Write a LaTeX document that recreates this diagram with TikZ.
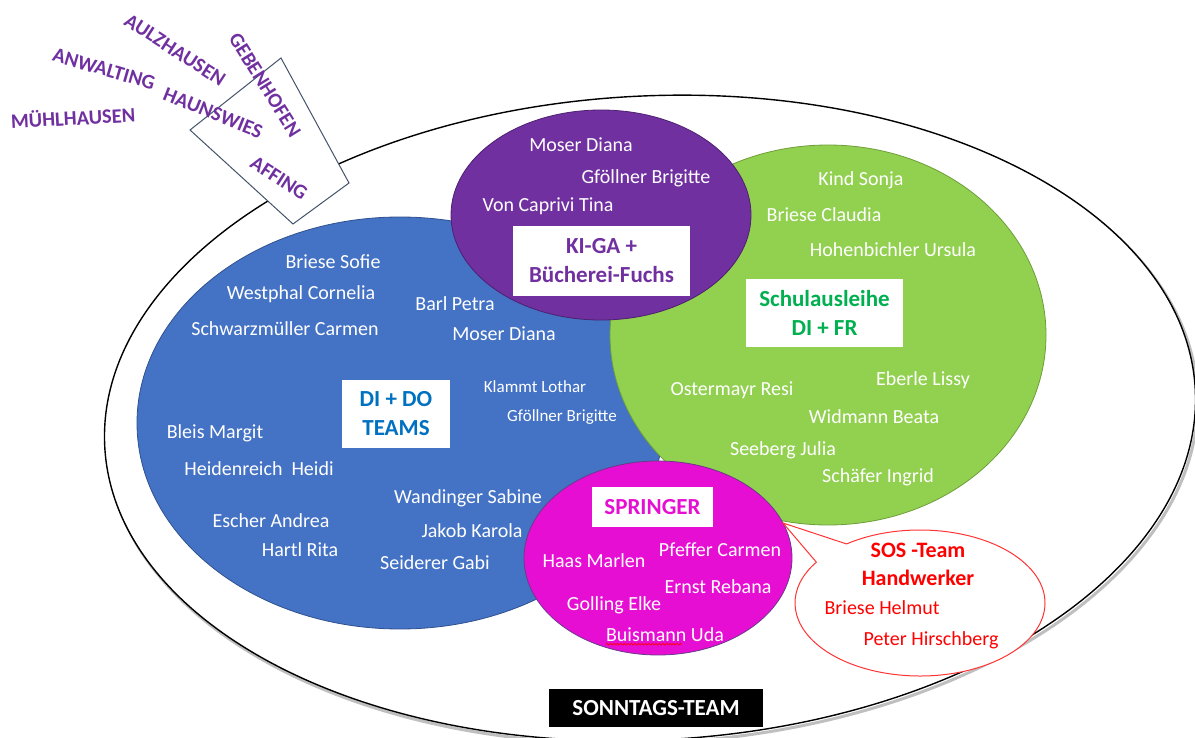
\documentclass[tikz,border=0pt]{standalone}
\usepackage{fontspec}
\setmainfont{Carlito}
\usetikzlibrary{calc,decorations.pathmorphing}
\definecolor{cblue}{HTML}{4472C4}
\definecolor{cblueline}{HTML}{2F528F}
\definecolor{cgreen}{HTML}{92D050}
\definecolor{cgreenline}{HTML}{6E9E3A}
\definecolor{cpurple}{HTML}{7030A0}
\definecolor{cpurpleline}{HTML}{4E2070}
\definecolor{cmag}{HTML}{E60ED2}
\definecolor{cmagline}{HTML}{6A3A8A}
\definecolor{tblue}{HTML}{0070C0}
\definecolor{tgreen}{HTML}{00B050}
\definecolor{tred}{HTML}{FF0000}
\definecolor{boxline}{HTML}{44546A}
\begin{document}
\begin{tikzpicture}[x=1pt,y=-1pt,
  person/.style={text=white, font=\fontsize{20}{24}\selectfont, inner sep=0pt},
  smallperson/.style={text=white, font=\fontsize{17}{20}\selectfont, inner sep=0pt},
  labelbox/.style={fill=white, font=\bfseries\fontsize{23}{29}\selectfont, align=center, inner sep=0pt},
  place/.style={text=cpurple, font=\bfseries\fontsize{20.5}{24}\selectfont, inner sep=0pt},
  redname/.style={text=tred, font=\fontsize{20}{24}\selectfont, inner sep=0pt},
  redhead/.style={text=tred, font=\bfseries\fontsize{22}{28}\selectfont, align=center, inner sep=0pt},
  outerline/.style={draw=black, line width=1.4pt},
  shadowline/.style={draw=black!25, line width=3pt},
]
\useasboundingbox (0,0) rectangle (1195,738);

% outer ellipse (Sonntags-Team)
\begin{scope}[shift={(650,418)}, rotate=3]
  \draw[shadowline] (2,3) ellipse [x radius=546pt, y radius=322pt];
  \draw[outerline, fill=white] (0,0) ellipse [x radius=546pt, y radius=322pt];
\end{scope}

% tilted box
\coordinate (q1) at (281,58);
\coordinate (q2) at (349,183);
\coordinate (q3) at (293,224);
\coordinate (q4) at (190,130);
\filldraw[fill=white, draw=boxline, line width=1pt] (q1) -- (q2) -- (q3) -- (q4) -- cycle;

% group ellipses
\filldraw[fill=cblue, draw=cblueline, line width=0.8pt] (400,423) ellipse [x radius=263pt, y radius=206pt];
\filldraw[fill=cgreen, draw=cgreenline, line width=0.8pt] (828,335) ellipse [x radius=218pt, y radius=190pt];
\filldraw[fill=cpurple, draw=cpurpleline, line width=0.8pt] (601,215) ellipse [x radius=150pt, y radius=105pt];
\filldraw[fill=cmag, draw=cmagline, line width=0.8pt] (658,558) ellipse [x radius=134pt, y radius=97pt];

% speech bubble
\coordinate (bc) at (920,603);
\coordinate (tip) at (783,523);
\filldraw[fill=white, draw=tred!80, line width=1pt]
  ($(bc)+(146:125pt and 73pt)$) -- (tip) -- ($(bc)+(126:125pt and 73pt)$)
  arc[start angle=126, end angle=-214, x radius=125pt, y radius=73pt] -- cycle;

% place names
\node[place, rotate=-33] (aul) at (175,50) {AULZHAUSEN};
\node[place, rotate=-58] (geb) at (265,85) {GEBENHOFEN};
\node[place, rotate=-16] (anw) at (104,69) {ANWALTING};
\node[place, rotate=-22] (hau) at (213,113) {HAUNSWIES};
\node[place, rotate=3] (mue) at (73,117) {MÜHLHAUSEN};
\node[place, rotate=-33] (aff) at (279,178) {AFFING};

% label boxes
\node[labelbox, text=cpurple, minimum width=177pt, minimum height=70pt] (kiga) at (601.5,261) {KI-GA +\\Bücherei-Fuchs};
\node[labelbox, text=tgreen, minimum width=157pt, minimum height=68pt] (schul) at (824.5,313) {Schulausleihe\\DI + FR};
\node[labelbox, text=tblue, minimum width=108pt, minimum height=68pt] (dido) at (396,414) {DI + DO\\TEAMS};
\node[labelbox, text=cmag, minimum width=121pt, minimum height=40pt] (spr) at (652.5,507) {SPRINGER};
\node[labelbox, fill=black, text=white, minimum width=214pt, minimum height=38pt] (sonn) at (656,708) {SONNTAGS-TEAM};

% purple group
\node[person] (p1) at (581,145) {Moser Diana};
\node[person] (p2) at (646,178) {Gföllner Brigitte};
\node[person] (p3) at (548,206) {Von Caprivi Tina};

% blue group
\node[person] (b1) at (333,262) {Briese Sofie};
\node[person] (b2) at (301,294) {Westphal Cornelia};
\node[person] (b3) at (285,329) {Schwarzmüller Carmen};
\node[person] (b4) at (455,304) {Barl Petra};
\node[person] (b5) at (504,334) {Moser Diana};
\node[smallperson] (b6) at (535,387) {Klammt Lothar};
\node[smallperson] (b7) at (562,417) {Gföllner Brigitte};
\node[person] (b8) at (215,433) {Bleis Margit};
\node[person] (b9) at (259,469) {Heidenreich\ \ Heidi};
\node[person] (b10) at (468,498) {Wandinger Sabine};
\node[person] (b11) at (271,521) {Escher Andrea};
\node[person] (b12) at (472,531) {Jakob Karola};
\node[person] (b13) at (300,550) {Hartl Rita};
\node[person] (b14) at (435,563) {Seiderer Gabi};

% green group
\node[person] (g1) at (861,180) {Kind Sonja};
\node[person] (g2) at (824,215) {Briese Claudia};
\node[person] (g3) at (893,250) {Hohenbichler Ursula};
\node[person] (g4) at (732,390) {Ostermayr Resi};
\node[person] (g5) at (923,380) {Eberle Lissy};
\node[person] (g6) at (874,417) {Widmann Beata};
\node[person] (g7) at (783,450) {Seeberg Julia};
\node[person] (g8) at (878,477) {Schäfer Ingrid};

% magenta group
\node[person] (m1) at (594,561) {Haas Marlen};
\node[person] (m2) at (720,550) {Pfeffer Carmen};
\node[person] (m3) at (718,587) {Ernst Rebana};
\node[person] (m4) at (614,605) {Golling Elke};
\node[person] (m5) at (665,635) {Buismann Uda};
\draw[tred, line width=0.7pt, decorate, decoration={snake, amplitude=0.8pt, segment length=3.5pt}]
  ($(m5.south west)+(0,2)$) -- ($(m5.south west)+(76,2)$);

% SOS team
\node[redhead] (sos) at (918,564) {SOS -Team\\Handwerker};
\node[redname] (r1) at (882,608) {Briese Helmut};
\node[redname] (r2) at (931,640) {Peter Hirschberg};
\end{tikzpicture}
\end{document}
